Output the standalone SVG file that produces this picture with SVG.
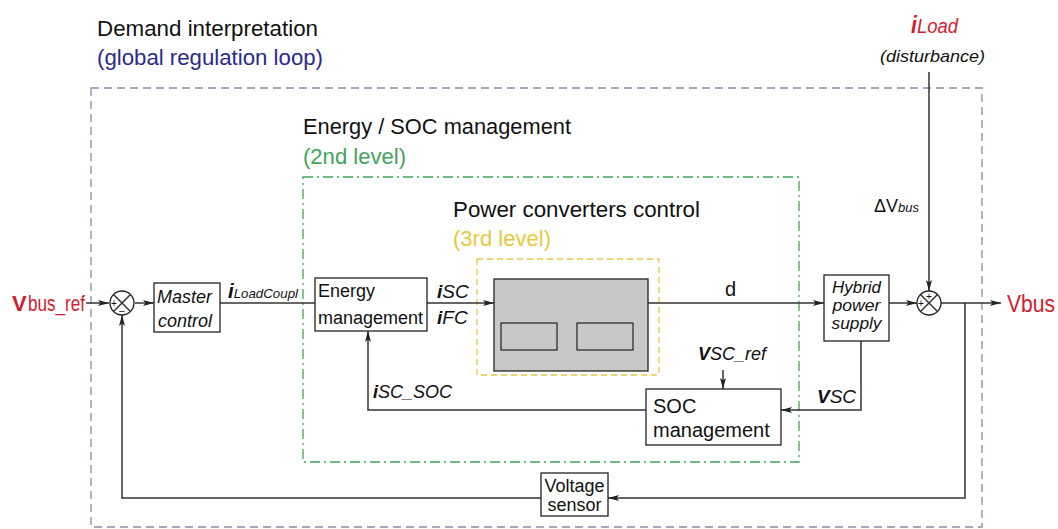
<svg xmlns="http://www.w3.org/2000/svg" width="1058" height="529" viewBox="0 0 1058 529">
<defs>
<marker id="ah" markerWidth="11" markerHeight="7" refX="11" refY="3.5" orient="auto" markerUnits="userSpaceOnUse">
<path d="M0,0.5 L11,3.5 L0,6.5 L2.5,3.5 z" fill="#222"/>
</marker>
</defs>
<style>
text{font-family:"Liberation Sans",Arial,sans-serif;fill:#111}
.box{fill:#fff;stroke:#222;stroke-width:1.3}
.ln{fill:none;stroke:#333;stroke-width:1.5}
.arr{fill:none;stroke:#333;stroke-width:1.5;marker-end:url(#ah)}
.it{font-style:italic}
.b{font-weight:bold}
.red{fill:#D0202E}
.sum{fill:#fff;stroke:#222;stroke-width:1.3}
.sgn{font-size:10px}
.hd{font-size:22px}
</style>
<rect width="1058" height="529" fill="#fff"/>

<g id="regions">
<rect x="91" y="88" width="891" height="439" fill="none" stroke="#8A8AA6" stroke-width="1.3" stroke-dasharray="8,5"/>
<rect x="303" y="177" width="496" height="285" fill="none" stroke="#3FA55A" stroke-width="1.3" stroke-dasharray="10,4,2,4"/>
<rect x="477" y="259" width="182" height="116" fill="none" stroke="#E8C840" stroke-width="1.3" stroke-dasharray="6,4"/>
<text x="97" y="36" class="hd" textLength="221" lengthAdjust="spacingAndGlyphs">Demand interpretation</text>
<text x="97" y="65" class="hd" style="fill:#2B2B8C" textLength="226" lengthAdjust="spacingAndGlyphs">(global regulation loop)</text>
<text x="303" y="134" class="hd" textLength="268" lengthAdjust="spacingAndGlyphs">Energy / SOC management</text>
<text x="303" y="164" class="hd" style="fill:#3FA55A" textLength="103" lengthAdjust="spacingAndGlyphs">(2nd level)</text>
<text x="453" y="217" class="hd" textLength="247" lengthAdjust="spacingAndGlyphs">Power converters control</text>
<text x="453" y="246" class="hd" style="fill:#E8C840" textLength="98" lengthAdjust="spacingAndGlyphs">(3rd level)</text>
</g>

<g id="connectors">
<path class="arr" d="M86,303 H109"/>
<path class="arr" d="M135,303 H154"/>
<path class="ln" d="M220,303 H315"/>
<path class="arr" d="M427,303 H494"/>
<path class="arr" d="M648,303 H824"/>
<path class="arr" d="M889,303 H917"/>
<path class="arr" d="M941,303 H1001"/>
<path class="arr" d="M929,72 V291"/>
<path class="arr" d="M965,303 V498 H608"/>
<path class="arr" d="M541,498 H122 V315"/>
<path class="arr" d="M861,341 V410 H781"/>
<path class="arr" d="M646,410 H368 V331"/>
<path class="arr" d="M723,370 V389"/>
<text x="228" y="298" font-size="20" class="it" textLength="70" lengthAdjust="spacingAndGlyphs"><tspan class="b">i</tspan><tspan font-size="13">LoadCoupl</tspan></text>
<text x="437" y="298" font-size="19" class="it"><tspan class="b">i</tspan>SC</text>
<text x="437" y="324" font-size="19" class="it"><tspan class="b">i</tspan>FC</text>
<text x="725" y="296" font-size="20">d</text>
<text x="874" y="212" font-size="18">ΔV<tspan class="it" font-size="13">bus</tspan></text>
<text x="817" y="403" font-size="19" class="it"><tspan class="b">V</tspan>SC</text>
<text x="373" y="398" font-size="19" class="it" textLength="79" lengthAdjust="spacingAndGlyphs"><tspan class="b">i</tspan>SC_SOC</text>
<text x="698" y="360" font-size="19" class="it" textLength="68" lengthAdjust="spacingAndGlyphs"><tspan class="b">V</tspan>SC_ref</text>
<text x="12" y="311" font-size="22" class="red b">V</text>
<text x="28" y="311" font-size="22" class="red" textLength="57" lengthAdjust="spacingAndGlyphs">bus_ref</text>
<text x="1007" y="312" font-size="23" class="red" textLength="48" lengthAdjust="spacingAndGlyphs">Vbus</text>
<text x="911" y="33" font-size="23" class="it red" textLength="47" lengthAdjust="spacingAndGlyphs"><tspan class="b">i</tspan><tspan font-size="20">Load</tspan></text>
<text x="880" y="62" font-size="17" class="it" textLength="105" lengthAdjust="spacingAndGlyphs">(disturbance)</text>
</g>

<g id="sum1">
<circle class="sum" cx="122" cy="303" r="12"/>
<path class="ln" d="M113.5,294.5 L130.5,311.5 M130.5,294.5 L113.5,311.5" stroke-width="1.2"/>
<text x="111" y="307" class="sgn">+</text>
<text x="119" y="314" class="sgn">–</text>
</g>

<g id="master">
<rect class="box" x="154" y="283" width="66" height="49"/>
<text x="157" y="303" font-size="18" class="it">Master</text>
<text x="158" y="327" font-size="18" class="it">control</text>
</g>

<g id="energy">
<rect class="box" x="315" y="278" width="112" height="53"/>
<text x="318" y="297" font-size="18">Energy</text>
<text x="318" y="324" font-size="18">management</text>
</g>

<g id="converters">
<rect x="494" y="279" width="154" height="92" fill="#C8C8C8" stroke="#222" stroke-width="1.3"/>
<rect x="501" y="323" width="56" height="27" fill="#C8C8C8" stroke="#222" stroke-width="1.2"/>
<rect x="577" y="323" width="56" height="27" fill="#C8C8C8" stroke="#222" stroke-width="1.2"/>
</g>

<g id="hybrid">
<rect class="box" x="824" y="275" width="65" height="66"/>
<text x="856.5" y="293" font-size="17" class="it" text-anchor="middle" textLength="49" lengthAdjust="spacingAndGlyphs">Hybrid</text>
<text x="856.5" y="311" font-size="17" class="it" text-anchor="middle" textLength="48" lengthAdjust="spacingAndGlyphs">power</text>
<text x="856.5" y="329" font-size="17" class="it" text-anchor="middle" textLength="50" lengthAdjust="spacingAndGlyphs">supply</text>
</g>

<g id="sum2">
<circle class="sum" cx="929" cy="303" r="12"/>
<path class="ln" d="M920.5,294.5 L937.5,311.5 M937.5,294.5 L920.5,311.5" stroke-width="1.2"/>
<text x="926" y="300" class="sgn">+</text>
<text x="918" y="307" class="sgn">+</text>
</g>

<g id="soc">
<rect class="box" x="646" y="389" width="135" height="56"/>
<text x="653" y="413" font-size="20">SOC</text>
<text x="653" y="437" font-size="20">management</text>
</g>

<g id="sensor">
<rect class="box" x="541" y="473" width="67" height="43"/>
<text x="574.5" y="492" font-size="18" text-anchor="middle" textLength="60" lengthAdjust="spacingAndGlyphs">Voltage</text>
<text x="574.5" y="511" font-size="18" text-anchor="middle" textLength="54" lengthAdjust="spacingAndGlyphs">sensor</text>
</g>
</svg>
